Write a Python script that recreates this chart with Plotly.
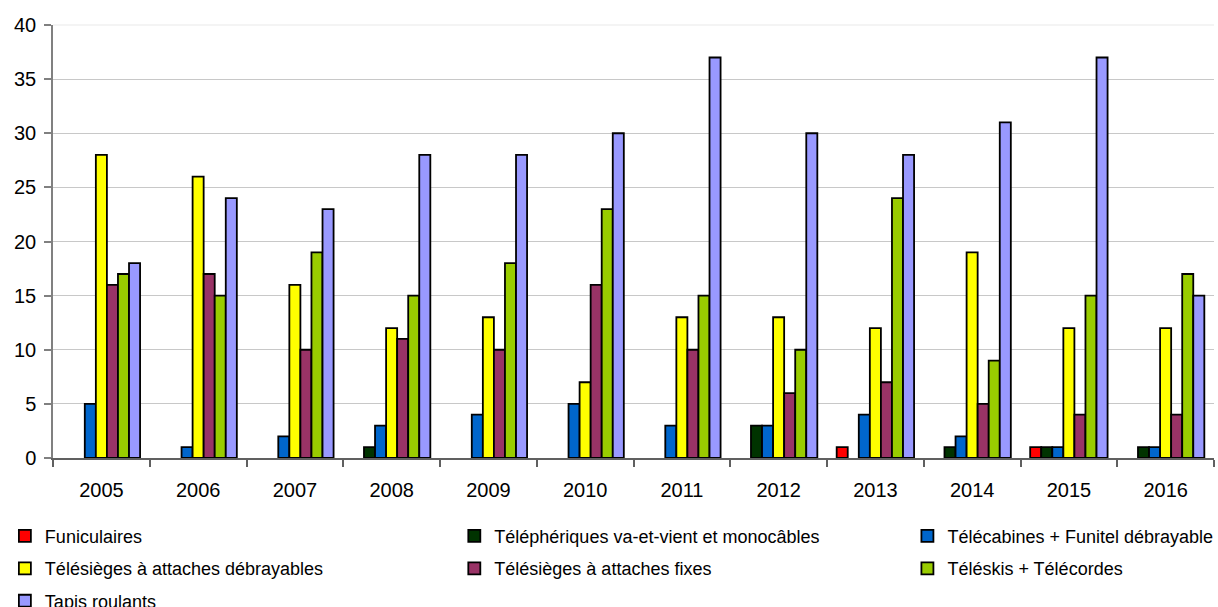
import plotly.graph_objects as go

years = ["2005", "2006", "2007", "2008", "2009", "2010",
         "2011", "2012", "2013", "2014", "2015", "2016"]

funiculaires = [0, 0, 0, 0, 0, 0, 0, 0, 1, 0, 1, 0]
telepheriques = [0, 0, 0, 1, 0, 0, 0, 3, 0, 1, 1, 1]
telecabines = [5, 1, 2, 3, 4, 5, 3, 3, 4, 2, 1, 1]
ts_debrayables = [28, 26, 16, 12, 13, 7, 13, 13, 12, 19, 12, 12]
ts_fixes = [16, 17, 10, 11, 10, 16, 10, 6, 7, 5, 4, 4]
teleskis = [17, 15, 19, 15, 18, 23, 15, 10, 24, 9, 15, 17]
tapis = [18, 24, 23, 28, 28, 30, 37, 30, 28, 31, 37, 15]

series = [
    ("Funiculaires", funiculaires, "#FF0000", "legend"),
    ("Téléphériques va-et-vient et monocâbles", telepheriques, "#003300", "legend2"),
    ("Télécabines + Funitel débrayable", telecabines, "#0066CC", "legend3"),
    ("Télésièges à attaches débrayables", ts_debrayables, "#FFFF00", "legend"),
    ("Télésièges à attaches fixes", ts_fixes, "#993366", "legend2"),
    ("Téléskis + Télécordes", teleskis, "#99CC00", "legend3"),
    ("Tapis roulants", tapis, "#9999FF", "legend"),
]

FONT = "Liberation Sans, Arial, sans-serif"

fig = go.Figure()
for i, (name, vals, color, leg) in enumerate(series):
    fig.add_trace(go.Bar(
        x=years,
        y=[v if v else None for v in vals],
        name=name,
        legend=leg,
        legendgroup=f"g{i}",
        marker=dict(color=color, line=dict(color="#000000", width=1.8)),
    ))

legend_common = dict(
    orientation="v",
    xref="container", yref="container",
    yanchor="top", xanchor="left",
    font=dict(family=FONT, size=18, color="#000000"),
    bgcolor="rgba(0,0,0,0)",
    tracegroupgap=6,
    itemwidth=30,
)

fig.update_layout(
    width=1218, height=607,
    margin=dict(l=53, r=4, t=25, b=149, autoexpand=False),
    paper_bgcolor="#FFFFFF",
    plot_bgcolor="#FFFFFF",
    barmode="group",
    bargap=0.2,
    bargroupgap=0,
    font=dict(family=FONT, size=20, color="#000000"),
    showlegend=True,
    legend=dict(x=0.004, y=0.147, **legend_common),
    legend2=dict(x=0.373, y=0.147, **legend_common),
    legend3=dict(x=0.745, y=0.147, **legend_common),
    xaxis=dict(
        type="category",
        showline=True, linecolor="#606060", linewidth=1.5,
        ticks="outside", tickson="boundaries", ticklen=7,
        tickcolor="#606060", tickwidth=1.5,
        ticklabelstandoff=13,
        tickfont=dict(family=FONT, size=20, color="#000000"),
        showgrid=False,
    ),
    yaxis=dict(
        range=[0, 40], dtick=5,
        showline=True, linecolor="#808080", linewidth=1.5,
        ticks="outside", ticklen=7, tickcolor="#808080", tickwidth=1.5,
        showgrid=True, gridcolor="#C8C8C8", gridwidth=1,
        zeroline=False,
        tickfont=dict(family=FONT, size=20, color="#000000"),
        ticklabelstandoff=4,
    ),
    # the top edge of the plot area is only a faint line
    shapes=[dict(type="line", xref="paper", yref="paper",
                 x0=0, x1=1, y0=1, y1=1, layer="below",
                 line=dict(color="#F4F4F4", width=2))],
)

fig.write_html("out.html")
